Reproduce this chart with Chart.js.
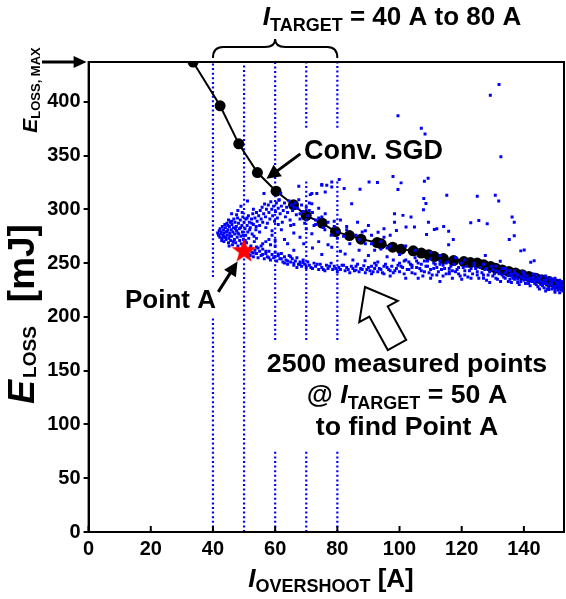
<!DOCTYPE html>
<html><head><meta charset="utf-8">
<script src="https://cdn.jsdelivr.net/npm/chart.js@4.4.1/dist/chart.umd.min.js"></script>
<style>html,body{margin:0;padding:0;background:#fff;overflow:hidden}#wrap{width:566px;height:599px;position:relative}</style>
</head><body><div id="wrap"><canvas id="c" width="566" height="599"></canvas></div>
<script>
const FONT = 'Arial, "Liberation Sans", Helvetica, sans-serif';

// ---- axes ----
const xTicks = [0, 20, 40, 60, 80, 100, 120, 140];
const yTicks = [0, 50, 100, 150, 200, 250, 300, 350, 400];
const X_MAX = 152.9;
const Y_MAX = 437;   // E_LOSS,MAX

// ---- I_TARGET sweep lines ----
const iTargets = [40, 50, 60, 70, 80];

// ---- Conventional SGD trajectory ----
const sgdX = [33.6, 42.3, 48.3, 54.3, 60.3, 65.9, 70.0, 75.1, 79.4, 83.9, 87.6, 92.8, 94.1, 97.8, 100.5, 104.4, 107.0, 109.4, 111.2, 114.1, 117.4, 120.7, 122.8, 125.0, 127.1, 129.3, 130.9, 133.0, 135.2, 137.3, 139.5, 141.6, 143.8, 145.9, 148.1, 150.2, 152.4];
const sgdY = [437, 396.3, 360.9, 334.2, 316.9, 304.2, 294.2, 287.2, 279.3, 275.6, 272.3, 269.1, 267.9, 264.8, 263.0, 261.4, 259.3, 257.7, 256.1, 254.2, 252.4, 251.4, 250.5, 250.0, 248.4, 246.8, 245.3, 243.7, 242.1, 240.7, 239.1, 237.5, 236.0, 234.4, 232.8, 230.7, 228.8];

// ---- Point A ----
const pointA = [50, 262];

// ---- measured points ----
const blobPts = [
[41.5,278],[41.8,276],[42,280],[42.2,274],[42.3,282],[42.5,277],[42.7,279],[43,273],[43,284],[43.2,276],[43.4,281],[43.5,270],[43.6,278],[43.8,286],[44,274],[44,283],[44.2,272],[44.3,279],[44.5,287],[44.6,276],[44.8,281],[45,269],[45,290],[45.1,273],[45.3,284],[45.4,278],[45.6,288],[45.7,271],[45.9,281],[46,275],[46.1,286],[46.3,267],[46.4,279],[46.6,283],[46.7,291],[46.9,272],[47,277],[47.1,288],[47.3,269],[47.5,284],[47.6,280],[47.8,274],[47.9,292],[48,266],[48.2,287],[48.3,277],[48.5,282],[48.6,271],[48.8,290],[49,275],[49.1,268],[49.3,285],[49.5,279],[49.6,293],[49.8,272],[50,288],[50.1,265],[50.3,282],[50.5,276],[50.6,291],[50.8,269],[51,285],[51.2,279],[51.4,294],[51.5,273],[51.7,288],[52,283],[52.2,266],[52.4,291],[52.6,277],[52.8,296],[53,286],[53.3,270],[53.5,292],[53.8,281],[54,297],[54.2,289],[54.5,264],[54.7,294],[55,285],
[43.5,275],[44.5,279.5],[45.5,275.5],[46.5,270],[47.2,282],[48,278],[48.9,283],[49.7,276],[50.4,271],[51,292],[51.8,281],[52.5,287],[53.2,275],[53.9,284],[44.8,285],[46,289],[47.6,295],[49.4,297],[42.8,271],[45.2,266]
];
const upperBranchPts = [
[55.2,299],[55.5,291],[55.8,302],[56,288],[56.3,296],[56.6,305],[56.9,293],[57.2,300],[57.5,287],[57.8,304],[58,297],[58.3,291],[58.6,307],[58.9,300],[59.2,294],[59.5,303],[59.8,289],[60.1,298],[60.4,306],[60.7,292],[61,301],[61.3,309],[61.6,296],[62,303],[62.3,288],[62.6,299],[63,306],[63.3,293],[63.7,302],[64,297],[64.4,308],[64.8,290],[65.2,304],[65.6,299],[66,286],[66.4,306],[66.8,295],[67.2,301],[67.6,309],[68,291],[68.5,304],[69,298],[69.5,287],[70,302],[70.5,294],[71,306],[72,297],[73,290],[74,301],[75,293],
[49,302.8],[51.1,307.8],[56.4,314.7],[61.2,308.4],[61.8,314.7],[67.6,321.5],[71.8,314.7],[75,322.4],[76.1,316.2],[78.2,320.8],[46,296],[48,299],[53,300]
];
const lowerBranchPts = [
[51,262],[51.5,258],[52,264],[52.5,260],[53,256],[53.5,262],[54,259],[54.5,255],[55,261],[55.5,257],[56,263],[56.5,254],[57,259],[57.5,256],[58,261],[58.5,253],[59,258],[59.5,255],[60,260],[60.5,252],[61,257],[61.5,254],[62,259],[62.5,251],[63,256],[63.5,253],[64,249],[64.5,257],[65,251],[65.5,254],[66,248],[66.5,252],[67,255],[67.5,249],[68,251],[68.5,247],[69,253],[69.5,249],[70,246],[70.5,251],[71,248],[72,245],[72.5,250],[73,247],[74,244],[74.5,249],[75,246],[76,243],[76.5,248],[77,245],[78,250],[78.5,244],[79,247],[80,242],[80.5,246],[81,244],[82,248],[82.5,243],[83,246],[84,241],[85,245],[85.5,243],[86,247],[87,242],[88,244],[89,241],[90,246],[90.5,243],[91,240],[92,245],[93,242],[94,244],[95,240],[96,246],[97,243],[98,241],[99,245],[100,242],
[52,257],[54,265],[56,258],[58,255],[60,256],[62,254],[64,252],[66,250],[68,249],[53,259.5],[57,261],[61,258.5],[63,250],[65,256],[67,246],[69,250.5],
[84.5,247],[86,243.5],[86.5,249],[87.5,245],[88.5,247.5],[89.5,244],[91,247],[91.5,242],[92.5,248],[93.5,245],[94.5,241],[95.5,249],[96.5,244],[97.5,247],[98.5,243],[99.5,248],
[71.5,246],[73.5,249],[75.5,244],[77.5,247],[79.5,245],[81.5,248],[83.5,244]
];
const innerPts = [
[57,270],[59,276],[60,266],[62,281],[63,272],[64,268],[65,285],[66,278],[66,262],[68,274],[69.2,268],[70,282],[71.8,277.3],[72,264],[73,286],[74,270],[75,258],[76,281],[77,267],[78.2,264.8],[79,289],[80,273],[81,261],[82.5,258.5],[83,284],[84,268],[85,253],[86,276],[87,262],[88.9,252.3],[89,280],[90,257],[91,268],[93,251],[94,263],[95,274],[96,256],[97,266],[98,253],[100,258],
[54,273],[55,279],[56,268],[57,283],[58,272],[59,280],[60,271],[61,286],[55.5,266],[58.5,267]
];
const nearLinePts = [
[66,302],[68,296],[70,290],[71,299],[72.5,285],[74,292],[75.5,283],[77,288],[78,276],[79,284],[80,279],[81,290],[82,275],[83,281],[84.6,305.3],[86.5,288],[87,272],[88,279],[89,268],[90,285],[91,276],[92,262],[93.1,278.8],[94,270],[95,282],[96,264],[97,276],[98.4,288],[99,280.4],[98.4,296],[101.1,294.4],[103.7,292.8],[102.1,283.5],[104.8,283.5],[107.8,310],[108.5,305.4],[107.7,299.7],[71.8,305.3],[76.1,296],[73.4,314.7],[71.3,313.7],[75,323.1],[76.6,322.4],[78.2,325.5],[80.6,327.8],[82.2,319.3],[87.3,318.7],[90.2,325.5],[92.9,325],[99.5,318.4],[100.5,324.6],[108,326.2],
[115.2,313.1],[125,312.1],[130.8,313.1],[131.9,307.8],[136.2,292.8],[136.9,288.1],[122.9,287.6],[125.5,289.7],[128.2,286.6],[109.3,288.1],[111.2,281.3],[112,281.9],[114.2,284.1],[115.8,279.7],[117.3,271.9],[115.8,267],[108.7,276.6],[135.3,271.9],[136.9,275.4],[139,261.4],[140.1,262.3],[127.6,257],[132.4,251.7],[142.2,250.8],[143.3,252.3],
[102,266],[105,262],[110,260],[113,257],[118,255],[121,253],[124,250],[127,249],[131,247],[134,245],[137,243],[140,241],[144,239],[147,238],[150,236]
];
const outlierPts = [[132,416],[129.2,406],[99.5,387],[107,375.4],[108.2,370],[132.6,349],[97.9,330.6],[109.2,329]];
const bandPts = [
[100,250],[101,246],[101.5,240],[102,253],[103,244],[103.5,249],[104,241],[105,255],[105.5,246],[106,250],[107,243],[107.5,238],[108,252],[109,247],[109.5,241],[110,254],[111,245],[111.5,249],[112,239],[113,252],[113.5,244],[114,248],[115,240],[115.5,251],[116,245],[117,236],[117.5,249],[118,242],[119,246],[119.5,238],[120,250],[121,243],[121.5,247],[122,237],[123,245],[123.5,240],[124,248],[125,242],[125.5,236],[126,246],[127,239],[127.5,244],[128,234],[129,242],[129.5,247],[130,238],[131,243],[131.5,235],[132,240],[133,245],[133.5,237],[134,241],[135,233],[135.5,243],[136,238],[137,235],[137.5,240],[138,232],[139,237],[139.5,242],[140,234],[141,238],[141.5,231],[142,236],[143,240],[143.5,233],[144,230],[144.5,236],[145,233],[145.5,238],[146,229],[146.5,234],[147,231],[147.5,236],[148,228],[148.5,233],[149,230],[149.5,235],[150,227],[150.5,232],[151,229],[151.5,234],[152,230],[149,226],[151,225],[146,231],[143,235],[140,236],[138,239],[136,240],
[92,250],[95,247],[97,238],[102,236],[104,248],[106,236],[110,236],[113,233],[116,242],[120,235],[145,226],[147,224],[150,223],[152,226],[148,225.5],[151.5,222.5],
[118.5,244],[119,240],[120.5,246],[121,239],[122.5,243],[123,236],[124.5,245],[125,239],[126.5,241],[127,236],[128,245],[128.5,239],[129,232],[130,244],[130.5,240],[131,236],[132,242],[132.5,233],[133,239],[134,236],[134.5,243],[135,239],[136,232],[136.5,236],[137,241],[138,235],[138.5,230],[139,233],[140,239],[140.5,231],[141,235],[142,229],[142.5,233],[143,237],[144,234],[144.5,228],[145,236],[146,232],[146.5,227],[147,234],[148,230],[148.5,236],[149,232],[149.5,228],[150,234],[150.5,229],[151,231],[151.5,227],[152,233],[152.5,229],[152.5,224],[153,231],[150,225],[147.5,226],[145.5,230],[143.5,231],[141.5,234],[139.5,236],[137.5,237],[135.5,235],
[100.5,247],[101.5,252],[102.5,244],[103,251],[104,246],[105,240],[105.5,252],[106.5,245],[107,249],[108,242],[108.5,247],[109,252],[110,244],[110.5,239],[111,250],[112,246],[112.5,242],[113,249],[114,238],[114.5,245],[115,250],[116,240],[116.5,247],[117,243]
];

// gaps in the dotted I_TARGET lines where labels sit (y ranges, mJ)
const lineGaps = {40: [[199, 237]], 50: [], 60: [[76, 178.6]], 70: [[76, 178.6], [327.4, 375.8]], 80: [[76, 178.6], [327.4, 375.8]]};

// ---- build datasets ----
const measured = [].concat(blobPts, upperBranchPts, lowerBranchPts, innerPts, nearLinePts, outlierPts, bandPts).map(p => ({x: p[0], y: p[1]}));
const sgd = sgdX.map((x, i) => ({x, y: sgdY[i]}));

function targetLine(xv) {
  const pts = [];
  let y0 = 0;
  (lineGaps[xv] || []).forEach(g => { pts.push({x: xv, y: y0}, {x: xv, y: g[0]}, {x: xv, y: null}); y0 = g[1]; });
  pts.push({x: xv, y: y0}, {x: xv, y: Y_MAX});
  return pts;
}

// filled red star as a point style
const starImg = document.createElement('canvas');
starImg.width = 28; starImg.height = 28;
(function () {
  const g = starImg.getContext('2d');
  g.beginPath();
  for (let i = 0; i < 10; i++) {
    const r = i % 2 === 0 ? 13 : 5.3;
    const a = -Math.PI / 2 + i * Math.PI / 5;
    const px = 14 + r * Math.cos(a), py = 15 + r * Math.sin(a);
    i === 0 ? g.moveTo(px, py) : g.lineTo(px, py);
  }
  g.closePath();
  g.fillStyle = '#ff0000';
  g.fill();
})();

function rich(ctx, parts, x, y, align, rot) {
  ctx.save();
  ctx.translate(x, y);
  if (rot) ctx.rotate(rot);
  let w = 0;
  parts.forEach(p => { ctx.font = (p.i ? 'italic ' : '') + 'bold ' + p.s + 'px ' + FONT; p.w = ctx.measureText(p.t).width + (p.g || 0); w += p.w; });
  let cx = align === 'center' ? -w / 2 : (align === 'right' ? -w : 0);
  ctx.textAlign = 'left'; ctx.textBaseline = 'alphabetic'; ctx.fillStyle = '#000';
  parts.forEach(p => { ctx.font = (p.i ? 'italic ' : '') + 'bold ' + p.s + 'px ' + FONT; ctx.fillText(p.t, cx, p.dy || 0); cx += p.w; });
  ctx.restore();
}

function arrow(ctx, x1, y1, x2, y2, hl, hw, lw) {
  const dx = x2 - x1, dy = y2 - y1, L = Math.hypot(dx, dy), ux = dx / L, uy = dy / L;
  const bx = x2 - ux * hl, by = y2 - uy * hl;
  ctx.save();
  ctx.strokeStyle = '#000'; ctx.fillStyle = '#000'; ctx.lineWidth = lw;
  ctx.beginPath(); ctx.moveTo(x1, y1); ctx.lineTo(bx + ux, by + uy); ctx.stroke();
  ctx.beginPath(); ctx.moveTo(x2, y2); ctx.lineTo(bx - uy * hw, by + ux * hw); ctx.lineTo(bx + uy * hw, by - ux * hw); ctx.closePath(); ctx.fill();
  ctx.restore();
}

const decor = {
  id: 'decor',
  afterDraw(chart) {
    const ctx = chart.ctx, a = chart.chartArea, xs = chart.scales.x, ys = chart.scales.y;
    const X = v => xs.getPixelForValue(v), Y = v => ys.getPixelForValue(v);
    // frame
    ctx.save();
    ctx.strokeStyle = '#000'; ctx.lineWidth = 2;
    ctx.strokeRect(a.left, a.top, a.right - a.left, a.bottom - a.top);
    // inner x ticks
    ctx.beginPath();
    xTicks.forEach(v => { const px = X(v); ctx.moveTo(px, a.bottom); ctx.lineTo(px, a.bottom - 6); });
    ctx.stroke();
    ctx.restore();

    // brace over I_TARGET = 40..80
    const x1 = X(iTargets[0]), x2 = X(iTargets[iTargets.length - 1]), xm = (x1 + x2) / 2;
    const yb = a.top - 4, yt = a.top - 15, tip = a.top - 23, r = 10;
    ctx.save();
    ctx.strokeStyle = '#000'; ctx.lineWidth = 2;
    ctx.beginPath();
    ctx.moveTo(x1, yb); ctx.quadraticCurveTo(x1, yt, x1 + r, yt); ctx.lineTo(xm - r, yt);
    ctx.quadraticCurveTo(xm, yt, xm, tip); ctx.quadraticCurveTo(xm, yt, xm + r, yt);
    ctx.lineTo(x2 - r, yt); ctx.quadraticCurveTo(x2, yt, x2, yb);
    ctx.stroke();
    ctx.restore();

    rich(ctx, [{t: 'I', s: 26, i: true}, {t: 'TARGET', s: 18, dy: 6}, {t: ' = 40 A to 80 A', s: 26}], 392, 25, 'center');

    // E_LOSS,MAX arrow
    arrow(ctx, 42, Y(Y_MAX), a.left - 2, Y(Y_MAX), 13, 6, 3);
    rich(ctx, [{t: 'E', s: 21, i: true}, {t: 'LOSS, MAX', s: 13, dy: 3}], 37, 90, 'center', -Math.PI / 2);

    // axis titles
    rich(ctx, [{t: 'I', s: 26, i: true}, {t: 'OVERSHOOT', s: 18, dy: 5}, {t: ' [A]', s: 26}], 331, 587, 'center');
    rich(ctx, [{t: 'E', s: 36, i: true, g: 2}, {t: 'LOSS', s: 19, dy: 2, g: 24}, {t: '[mJ]', s: 37}], 34, 314, 'center', -Math.PI / 2);

    // Conv. SGD label + arrow
    rich(ctx, [{t: 'Conv. SGD', s: 27}], 304, 159, 'left');
    arrow(ctx, X(68.1), Y(351.6), X(57.2), Y(328.4), 14, 7, 3);

    // Point A label + arrow
    rich(ctx, [{t: 'Point A', s: 26}], 125, 308, 'left');
    arrow(ctx, X(41.7), Y(223.3), X(47.9), Y(251.4), 14, 7, 3);

    // hollow arrow pointing to the measured cloud
    const tipx = 365, tipy = 287, tx = 397, ty = 345;
    const L = Math.hypot(tx - tipx, ty - tipy), ux = (tx - tipx) / L, uy = (ty - tipy) / L, nx = -uy, ny = ux;
    const hb = 28, hw = 22, sw = 10.5;
    const bx = tipx + ux * hb, by = tipy + uy * hb;
    ctx.save();
    ctx.beginPath();
    ctx.moveTo(tipx, tipy);
    ctx.lineTo(bx + nx * hw, by + ny * hw);
    ctx.lineTo(bx + nx * sw, by + ny * sw);
    ctx.lineTo(tx + nx * sw, ty + ny * sw);
    ctx.lineTo(tx - nx * sw, ty - ny * sw);
    ctx.lineTo(bx - nx * sw, by - ny * sw);
    ctx.lineTo(bx - nx * hw, by - ny * hw);
    ctx.closePath();
    ctx.fillStyle = '#fff'; ctx.fill();
    ctx.strokeStyle = '#000'; ctx.lineWidth = 2; ctx.stroke();
    ctx.restore();

    rich(ctx, [{t: '2500 measured points', s: 26.7}], 407, 372, 'center');
    rich(ctx, [{t: '@ ', s: 26.7}, {t: 'I', s: 26.7, i: true}, {t: 'TARGET', s: 18, dy: 6}, {t: ' = 50 A', s: 26.7}], 407, 403, 'center');
    rich(ctx, [{t: 'to find Point A', s: 26.7}], 407, 435, 'center');
  }
};

const datasets = [];
datasets.push({label: 'Point A', data: [{x: pointA[0], y: pointA[1]}], pointStyle: starImg, pointRadius: 14, order: 0, clip: false});
datasets.push({label: 'Measured', data: measured, pointStyle: 'rect', pointRadius: 2.1, pointBorderWidth: 0, backgroundColor: '#0000ff', borderColor: '#0000ff', order: 1});
datasets.push({label: 'Conv. SGD', data: sgd, showLine: true, borderColor: '#000', borderWidth: 2, backgroundColor: '#000', pointRadius: 5.5, pointBorderWidth: 0, order: 2});
iTargets.forEach(v => datasets.push({label: 'I=' + v, data: targetLine(v), showLine: true, spanGaps: false, borderColor: '#0000ff', borderWidth: 2.2, borderDash: [2, 2.6], pointRadius: 0, order: 3}));

new Chart(document.getElementById('c'), {
  type: 'scatter',
  data: {datasets},
  options: {
    responsive: false, animation: false, devicePixelRatio: 1,
    layout: {autoPadding: false, padding: {top: 62, right: 2, left: 0, bottom: 0}},
    plugins: {legend: {display: false}, tooltip: {enabled: false}},
    elements: {line: {tension: 0}},
    scales: {
      x: {
        type: 'linear', min: 0, max: X_MAX,
        afterFit: s => { s.height = 67; s.paddingLeft = 0; s.paddingRight = 0; },
        afterBuildTicks: s => { s.ticks = xTicks.map(v => ({value: v})); },
        grid: {display: true, drawOnChartArea: false, drawTicks: false, color: '#000'},
        border: {display: true, color: '#000', width: 2},
        ticks: {color: '#000', padding: 5, maxRotation: 0, autoSkip: false, font: {family: FONT, size: 20, weight: 'bold'}}
      },
      y: {
        type: 'linear', min: 0, max: Y_MAX,
        afterFit: s => { s.width = 88.6; s.paddingTop = 0; s.paddingBottom = 0; },
        afterBuildTicks: s => { s.ticks = yTicks.map(v => ({value: v})); },
        grid: {display: true, drawOnChartArea: false, drawTicks: true, tickLength: 5, color: '#000', lineWidth: 2},
        border: {display: true, color: '#000', width: 2},
        ticks: {color: '#000', padding: 3, autoSkip: false, font: {family: FONT, size: 20, weight: 'bold'}}
      }
    }
  },
  plugins: [decor]
});
</script></body></html>
